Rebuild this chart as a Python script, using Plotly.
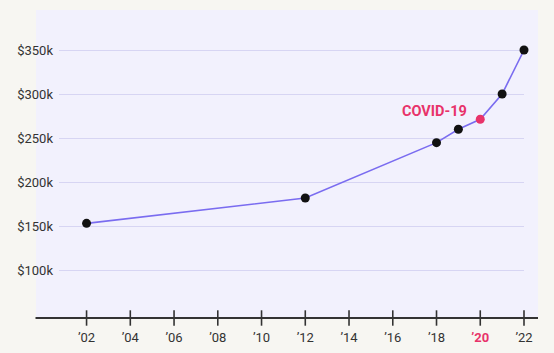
import plotly.graph_objects as go

years = [2002, 2012, 2018, 2019, 2020, 2021, 2022]
values_k = [153, 181.8, 244.7, 259.9, 271.3, 300, 350]
marker_colors = ["#111111", "#111111", "#111111", "#111111", "#e8336a", "#111111", "#111111"]

xtick_vals = [2002, 2004, 2006, 2008, 2010, 2012, 2014, 2016, 2018, 2020, 2022]
xtick_text = ["’02", "’04", "’06", "’08", "’10", "’12", "’14", "’16", "’18",
              "<b><span style='color:#e8336a'>’20</span></b>", "’22"]
ytick_vals = [100, 150, 200, 250, 300, 350]
ytick_text = ["$100k", "$150k", "$200k", "$250k", "$300k", "$350k"]

x_range = [2000.74, 2022.0]
y_range = [45.45, 395.45]

fig = go.Figure()

# tick marks crossing the axis line
fig.add_trace(go.Scatter(
    x=xtick_vals, y=[y_range[0]] * len(xtick_vals), mode="markers",
    marker=dict(symbol="line-ns", size=11, line=dict(color="#333333", width=1.6)),
    cliponaxis=False, hoverinfo="skip", showlegend=False))

fig.add_trace(go.Scatter(
    x=years, y=values_k, mode="lines+markers",
    line=dict(color="#7a6cf0", width=1.6),
    marker=dict(color=marker_colors, size=9),
    cliponaxis=False, showlegend=False))

fig.add_annotation(x=2020, y=271.3, text="<b>COVID-19</b>", showarrow=False,
                   xanchor="right", yanchor="bottom", xshift=-11, yshift=-3,
                   font=dict(family="Roboto", size=14.5, color="#e8336a"))

W = 554
left_px, right_px = 59, 524
pw = right_px - left_px

def px2paper(px):
    return (px - left_px) / pw

# panel background
fig.add_shape(type="rect", xref="paper", yref="paper",
              x0=px2paper(36), x1=px2paper(538), y0=0, y1=1,
              fillcolor="#f2f1fd", line=dict(width=0), layer="below")
# axis line
fig.add_shape(type="line", xref="paper", yref="paper",
              x0=px2paper(35.5), x1=px2paper(538), y0=0, y1=0,
              line=dict(color="#333333", width=2), layer="above")

fig.update_layout(
    width=554, height=353,
    margin=dict(l=left_px, r=W - right_px, t=10, b=35, autoexpand=False),
    paper_bgcolor="#f7f6f2",
    plot_bgcolor="rgba(0,0,0,0)",
    font=dict(family="Roboto", size=13, color="#333333"),
    xaxis=dict(range=x_range, tickvals=xtick_vals, ticktext=xtick_text,
               showgrid=False, zeroline=False, showline=False, automargin=False,
               ticks="outside", ticklen=7, tickcolor="rgba(0,0,0,0)",
               tickfont=dict(size=13, color="#333333")),
    yaxis=dict(range=y_range, tickvals=ytick_vals, ticktext=ytick_text,
               showgrid=True, gridcolor="#d7d5f3", gridwidth=1,
               zeroline=False, showline=False, ticks="", automargin=False,
               ticklabelstandoff=5,
               tickfont=dict(size=13, color="#333333")),
)

fig.write_html("out.html")
